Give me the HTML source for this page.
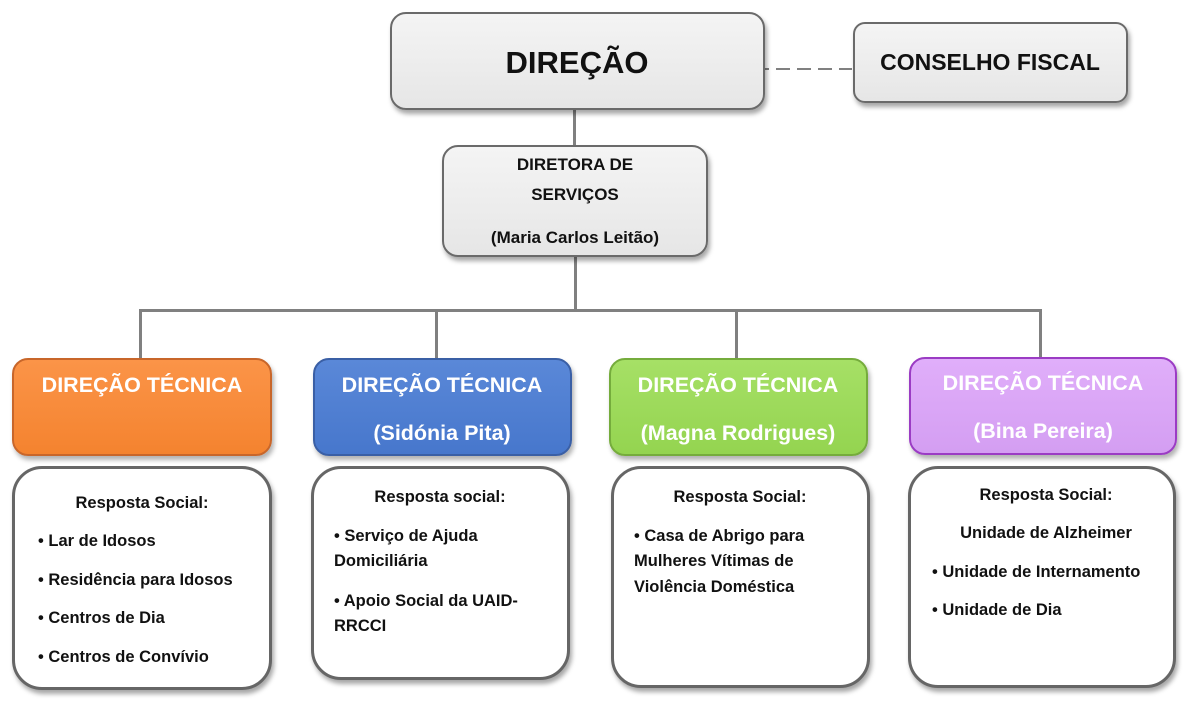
<!DOCTYPE html>
<html><head><meta charset="utf-8"><style>
body{margin:0;width:1200px;height:706px;background:#fff;position:relative;overflow:hidden;font-family:"Liberation Sans",sans-serif;font-weight:bold;}
.b{position:absolute;box-sizing:border-box;border-radius:16px;}
.g{background:linear-gradient(#f4f4f4,#e6e6e6);border:2px solid #6a6a6a;box-shadow:2px 4px 5px rgba(0,0,0,.35);}
.w{background:#fff;border:3px solid #666;border-radius:30px;box-shadow:2px 4px 5px rgba(0,0,0,.35);}
.t{position:absolute;white-space:nowrap;line-height:20px;}
.c{transform:translateX(-50%);text-align:center;}
.h{color:#fff;font-size:21.5px;}
.s{font-size:16.5px;color:#111;}
.l{position:absolute;background:#808080;}
</style></head><body>
<div class="l" style="left:573px;top:110px;width:3px;height:36px"></div>
<div class="l" style="left:574px;top:257px;width:3px;height:55px"></div>
<div class="l" style="left:139px;top:309px;width:903px;height:3px"></div>
<div class="l" style="left:139px;top:309px;width:3px;height:50px"></div>
<div class="l" style="left:435px;top:309px;width:3px;height:50px"></div>
<div class="l" style="left:735px;top:309px;width:3px;height:50px"></div>
<div class="l" style="left:1039px;top:309px;width:3px;height:50px"></div>
<svg style="position:absolute;left:750px;top:66px" width="104" height="6"><line x1="5" y1="3" x2="102" y2="3" stroke="#808080" stroke-width="2" stroke-dasharray="14,7"/></svg>

<div class="b g" style="left:390px;top:12px;width:375px;height:98px"></div>
<div class="t c" style="left:577px;top:48px;font-size:31px;line-height:30px;color:#111">DIREÇÃO</div>
<div class="b g" style="left:853px;top:22px;width:275px;height:81px;border-radius:12px"></div>
<div class="t c" style="left:990px;top:52px;font-size:23px;color:#111">CONSELHO FISCAL</div>
<div class="b g" style="left:442px;top:145px;width:266px;height:112px"></div>
<div class="t c s" style="left:575px;top:155px;font-size:17px">DIRETORA DE</div>
<div class="t c s" style="left:575px;top:185px;font-size:17px">SERVIÇOS</div>
<div class="t c s" style="left:575px;top:228px;font-size:17px">(Maria Carlos Leitão)</div>

<div class="b" style="left:12px;top:358px;width:260px;height:98px;background:linear-gradient(#fb9448,#f4832f);border:2px solid #c8662a;box-shadow:2px 4px 5px rgba(0,0,0,.3)"></div>
<div class="t c h" style="left:142px;top:375px">DIREÇÃO TÉCNICA</div>
<div class="b" style="left:313px;top:358px;width:259px;height:98px;background:linear-gradient(#5a88d8,#4777cc);border:2px solid #3a5fa5;box-shadow:2px 4px 5px rgba(0,0,0,.3)"></div>
<div class="t c h" style="left:442px;top:375px">DIREÇÃO TÉCNICA</div>
<div class="t c h" style="left:442px;top:423px">(Sidónia Pita)</div>
<div class="b" style="left:609px;top:358px;width:259px;height:98px;background:linear-gradient(#a6e066,#94d450);border:2px solid #75ac3c;box-shadow:2px 4px 5px rgba(0,0,0,.3)"></div>
<div class="t c h" style="left:738px;top:375px">DIREÇÃO TÉCNICA</div>
<div class="t c h" style="left:738px;top:423px">(Magna Rodrigues)</div>
<div class="b" style="left:909px;top:357px;width:268px;height:98px;background:linear-gradient(#e0aefa,#d49ef2);border:2px solid #9b3cc4;box-shadow:2px 4px 5px rgba(0,0,0,.3)"></div>
<div class="t c h" style="left:1043px;top:373px">DIREÇÃO TÉCNICA</div>
<div class="t c h" style="left:1043px;top:421px">(Bina Pereira)</div>

<div class="b w" style="left:12px;top:466px;width:260px;height:224px"></div>
<div class="t c s" style="left:142px;top:493px">Resposta Social:</div>
<div class="t s" style="left:38px;top:531px">• Lar de Idosos</div>
<div class="t s" style="left:38px;top:570px">• Residência para Idosos</div>
<div class="t s" style="left:38px;top:608px">• Centros de Dia</div>
<div class="t s" style="left:38px;top:647px">• Centros de Convívio</div>

<div class="b w" style="left:311px;top:466px;width:259px;height:214px"></div>
<div class="t c s" style="left:440px;top:487px">Resposta social:</div>
<div class="t s" style="left:334px;top:526px">• Serviço de Ajuda</div>
<div class="t s" style="left:334px;top:551px">Domiciliária</div>
<div class="t s" style="left:334px;top:591px">• Apoio Social da UAID-</div>
<div class="t s" style="left:334px;top:616px">RRCCI</div>

<div class="b w" style="left:611px;top:466px;width:259px;height:222px"></div>
<div class="t c s" style="left:740px;top:487px">Resposta Social:</div>
<div class="t s" style="left:634px;top:526px">• Casa de Abrigo para</div>
<div class="t s" style="left:634px;top:551px">Mulheres Vítimas de</div>
<div class="t s" style="left:634px;top:577px">Violência Doméstica</div>

<div class="b w" style="left:908px;top:466px;width:268px;height:222px"></div>
<div class="t c s" style="left:1046px;top:485px">Resposta Social:</div>
<div class="t c s" style="left:1046px;top:523px">Unidade de Alzheimer</div>
<div class="t s" style="left:932px;top:562px">• Unidade de Internamento</div>
<div class="t s" style="left:932px;top:600px">• Unidade de Dia</div>
</body></html>
